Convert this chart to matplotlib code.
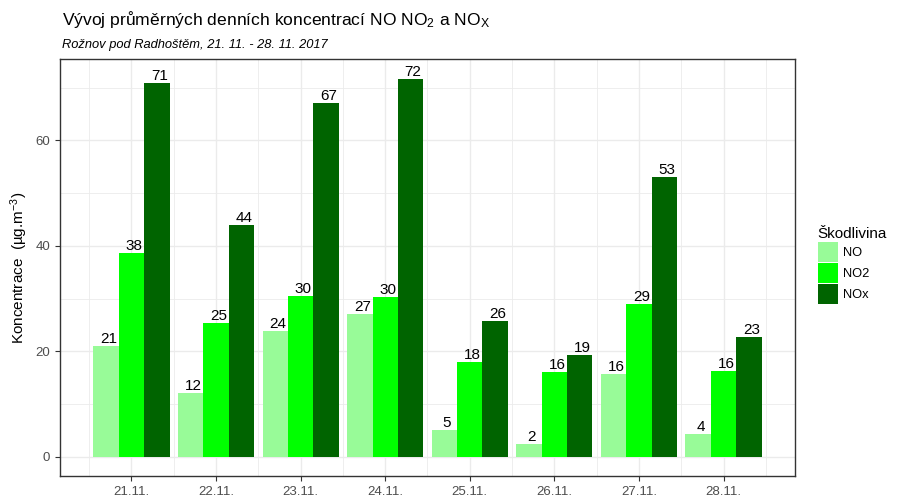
import numpy as np
import matplotlib
matplotlib.use('Agg')
import matplotlib.pyplot as plt
from matplotlib.ticker import FixedLocator

plt.rcParams['font.family'] = ['Liberation Sans', 'DejaVu Sans']
plt.rcParams['mathtext.fontset'] = 'custom'
plt.rcParams['mathtext.rm'] = 'Liberation Sans'
plt.rcParams['mathtext.it'] = 'Liberation Sans:italic'

# daily means
days = ['21.11.', '22.11.', '23.11.', '24.11.', '25.11.', '26.11.', '27.11.', '28.11.']
no = [21.0, 12.1, 23.8, 27.1, 5.1, 2.4, 15.7, 4.4]
no2 = [38.6, 25.4, 30.5, 30.4, 18.0, 16.1, 29.0, 16.3]
nox = [70.8, 43.9, 67.0, 71.7, 25.7, 19.3, 53.0, 22.7]
labels_no = [21, 12, 24, 27, 5, 2, 16, 4]
labels_no2 = [38, 25, 30, 30, 18, 16, 29, 16]
labels_nox = [71, 44, 67, 72, 26, 19, 53, 23]

series = [('NO', no, labels_no, '#98FB98'),
          ('NO2', no2, labels_no2, '#00FF00'),
          ('NOx', nox, labels_nox, '#006400')]

fig = plt.figure(figsize=(9, 5), dpi=100)
ax = fig.add_axes([60/900, 1 - 476/500, (795 - 60)/900, (476 - 59)/500])

x = np.arange(1, len(days) + 1)
w = 0.3
for i, (name, vals, labs, col) in enumerate(series):
    xs = x + (i - 1) * w
    ax.bar(xs, vals, width=w, color=col, label=name, zorder=2)
    for xi, v, lab in zip(xs, vals, labs):
        ax.text(xi + 0.03, v, str(lab), ha='center', va='bottom', fontsize=11,
                color='black', zorder=3)

ax.set_xlim(0.155, 8.845)
ax.set_ylim(-3.6, 75.4)
ax.set_xticks(x)
ax.set_xticklabels(days)
ax.xaxis.set_minor_locator(FixedLocator(np.arange(0.5, 9, 1)))
ax.yaxis.set_major_locator(FixedLocator([0, 20, 40, 60]))
ax.yaxis.set_minor_locator(FixedLocator([10, 30, 50, 70]))
ax.grid(which='major', color='#EBEBEB', linewidth=1.0, zorder=0)
ax.grid(which='minor', color='#EBEBEB', linewidth=0.6, zorder=0)
ax.set_axisbelow(True)
ax.tick_params(which='major', labelsize=9.5, labelcolor='#4D4D4D', color='#333333',
               length=3.5, width=0.8)
ax.tick_params(which='minor', length=0)
for s in ax.spines.values():
    s.set_color('#333333')
    s.set_linewidth(1.0)

ax.set_ylabel(r'Koncentrace  (µg.m$^{-3}$)', fontsize=11, labelpad=4)

fig.text(62/900, 1 - 20/500, r'Vývoj průměrných denních koncentrací NO NO$_2$ a NO$_\mathregular{X}$',
         fontsize=12.6, va='center', ha='left')
fig.text(62/900, 1 - 45/500, 'Rožnov pod Radhoštěm, 21. 11. - 28. 11. 2017',
         fontsize=9.3, style='italic', va='center', ha='left')

leg = ax.legend(loc='center left', bbox_to_anchor=(1.015, 0.505), frameon=False,
                title='Škodlivina', fontsize=9.3, title_fontsize=11,
                handlelength=1.6, handleheight=2.0, handletextpad=0.4,
                labelspacing=0.1)
leg._legend_box.align = 'left'

fig.savefig('out.png', dpi=100)
